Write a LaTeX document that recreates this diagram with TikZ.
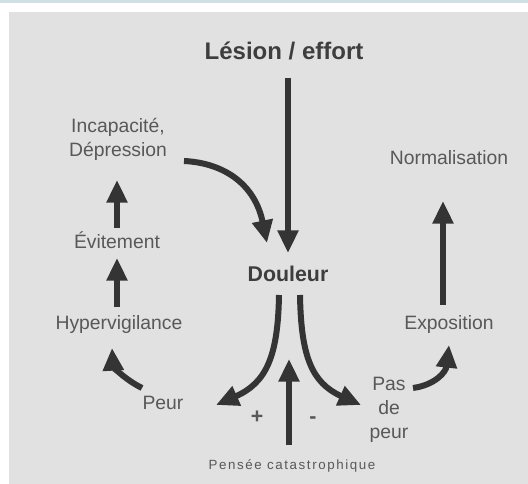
\documentclass[tikz,border=0pt]{standalone}
\usepackage{fontspec}
\setmainfont{Liberation Sans}
\usetikzlibrary{arrows.meta,calc}
\definecolor{panelgray}{RGB}{225,225,225}
\definecolor{bandblue}{RGB}{208,222,230}
\definecolor{txtgray}{RGB}{88,88,88}
\definecolor{boldgray}{RGB}{62,62,62}
\definecolor{arrgray}{RGB}{52,52,52}

\begin{document}
\begin{tikzpicture}[x=0.75pt,y=-0.75pt]
    \tikzset{txt/.style={text=txtgray, font=\fontsize{14.5}{18}\selectfont, inner sep=0pt, anchor=base}}
    \tikzset{boldtxt/.style={txt, text=boldgray, font=\fontsize{18}{22}\selectfont\bfseries}}
    \tikzset{arr/.style={draw=arrgray, line width=4.5pt, -{Triangle[width=15pt,length=17pt]}}}

    \useasboundingbox (0,0) rectangle (528,484);
    \fill[bandblue] (0,0) rectangle (528,3);
    \fill[panelgray] (9,12) rectangle (528,484);

    \node[boldtxt] (Lesion) at (284,60) {Lésion / effort};
    \node[boldtxt, font=\fontsize{16}{19}\selectfont\bfseries] (Douleur) at (288,282) {Douleur};
    \node[txt, align=center] (Incapacite) at (118,157) {Incapacité,\\Dépression};
    \node[txt] (Evitement) at (117,249) {Évitement};
    \node[txt] (Hypervigilance) at (119,330) {Hypervigilance};
    \node[txt] (Peur) at (163,409) {Peur};
    \node[txt] (Normalisation) at (449,165) {Normalisation};
    \node[txt] (Exposition) at (449,330) {Exposition};
    \node[txt, align=center] (PasDePeur) at (389,438) {Pas\\de\\peur};
    \node[txt, font=\fontsize{16}{19}\selectfont\bfseries] (Plus) at (257,423) {+};
    \node[txt, font=\fontsize{16}{19}\selectfont\bfseries] (Minus) at (313,423) {-};
    \node[txt, font=\fontsize{10}{12}\selectfont\addfontfeature{LetterSpace=12}] (Pensee) at (292,469) {Pensée catastrophique};

    \draw[arr] ($(Lesion.base)+(4,18)$) -- ($(Douleur.base)+(0,-29)$);
    \draw[arr] ($(Incapacite.base)+(66,4)$) .. controls +(41,2) and +(-12,-58) .. ($(Douleur.base)+(-21,-39)$);
    \draw[arr] ($(Evitement.base)+(0,-21)$) -- ($(Incapacite.base)+(-1,23)$);
    \draw[arr] ($(Hypervigilance.base)+(-2,-23)$) -- ($(Evitement.base)+(0,9)$);
    \draw[arr] ($(Douleur.base)+(-9,13)$) .. controls +(-1,62) and +(50,-22) .. ($(Peur.base)+(53,-4)$);
    \draw[arr] ($(Douleur.base)+(12,13)$) .. controls +(1,62) and +(-49,-22) .. ($(PasDePeur.base)+(-28,-33)$);
    \draw[arr] ($(Pensee.base)+(-3,-24)$) -- ($(Douleur.base)+(1,77)$);
    \draw[arr] ($(Peur.base)+(-21,-21)$) .. controls +(-20,-10) and +(1,17) .. ($(Hypervigilance.base)+(-7,18)$);
    \draw[arr] ($(PasDePeur.base)+(24,-50)$) .. controls +(22,-3) and +(-3,27) .. ($(Exposition.base)+(0,15)$);
    \draw[arr] ($(Exposition.base)+(-6,-25)$) -- ($(Normalisation.base)+(-6,36)$);
\end{tikzpicture}
\end{document}
